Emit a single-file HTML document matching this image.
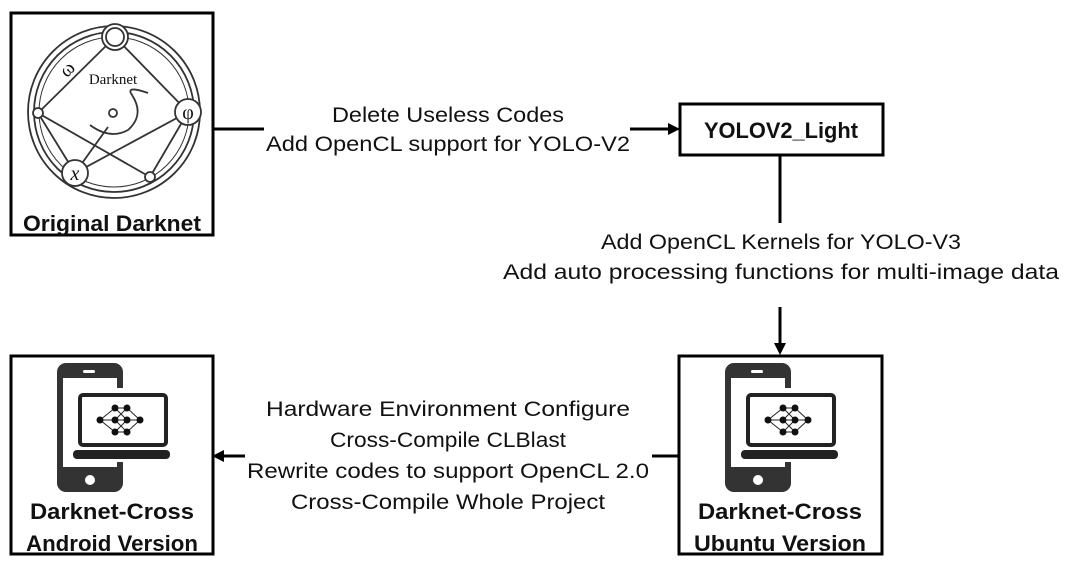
<!DOCTYPE html>
<html><head><meta charset="utf-8"><style>
html,body{margin:0;padding:0;background:#fff}
svg{display:block}
text{font-family:"Liberation Sans",sans-serif;fill:#111}
</style></head><body>
<svg width="1072" height="569" viewBox="0 0 1072 569" xmlns="http://www.w3.org/2000/svg">
<defs>
<g id="icon">
  <rect x="57" y="363" width="66" height="129" rx="9" fill="#333"/>
  <rect x="63" y="378" width="54" height="89" fill="#fff"/>
  <rect x="83" y="370" width="12" height="3" rx="1.5" fill="#fff"/>
  <circle cx="90" cy="480" r="5" fill="#fff"/>
  <rect x="72" y="388" width="102" height="74" fill="#fff"/>
  <rect x="80" y="395" width="86" height="50" rx="3" fill="none" stroke="#222" stroke-width="4"/>
  <rect x="73" y="450" width="97" height="9" rx="4" fill="#222"/>
  <g stroke="#222" stroke-width="1" fill="none">
    <path d="M100 420 L115 408 L127 408 L140 420 L127 432 L115 432 Z M100 420 L140 420 M115 408 L127 420 L115 432 M127 408 L115 420 L127 432"/>
  </g>
  <g fill="#111">
    <circle cx="100" cy="420" r="3.5"/><circle cx="140" cy="420" r="3.5"/>
    <circle cx="115" cy="408" r="3.5"/><circle cx="115" cy="420" r="3.5"/><circle cx="115" cy="432" r="3.5"/>
    <circle cx="127" cy="408" r="3.5"/><circle cx="127" cy="420" r="3.5"/><circle cx="127" cy="432" r="3.5"/>
  </g>
</g>
</defs>

<!-- boxes -->
<rect x="11" y="13" width="202" height="222" fill="none" stroke="#000" stroke-width="3"/>
<rect x="680" y="104" width="203" height="51" fill="none" stroke="#000" stroke-width="3"/>
<rect x="11" y="356" width="202" height="198" fill="none" stroke="#000" stroke-width="3"/>
<rect x="679" y="356" width="203" height="198" fill="none" stroke="#000" stroke-width="3"/>

<!-- darknet logo -->
<g fill="none" stroke="#333" stroke-width="1.8">
  <circle cx="114" cy="112" r="86"/>
  <circle cx="114" cy="112" r="80"/>
  <circle cx="114" cy="112" r="75" stroke-width="1"/>
  <path d="M115 37 L38 113 L150 177 M115 37 L188 112 L150 177 M38 113 L75 173 L188 112 M75 173 L108 127"/>
  <circle cx="115" cy="37" r="13" fill="#fff"/><circle cx="115" cy="37" r="9"/>
  <circle cx="188" cy="112" r="13" fill="#fff"/>
  <circle cx="75" cy="173" r="13" fill="#fff"/>
  <circle cx="38" cy="113" r="5" fill="#fff"/>
  <circle cx="150" cy="177" r="5" fill="#fff"/>
  <path d="M90 125 Q110 140 128 130 Q145 115 132 95 Q125 85 148 93"/>
  <circle cx="113" cy="113" r="4"/>
</g>
<text x="113" y="84" font-size="15" text-anchor="middle" style="font-family:'Liberation Serif',serif">Darknet</text>
<text x="188" y="119" font-size="20" text-anchor="middle" style="font-family:'Liberation Serif',serif">φ</text>
<text x="75" y="180" font-size="20" font-style="italic" text-anchor="middle" style="font-family:'Liberation Serif',serif">x</text>
<text x="68" y="75" font-size="20" text-anchor="middle" style="font-family:'Liberation Serif',serif" transform="rotate(-45 68 70)">ω</text>

<!-- icons -->
<use href="#icon"/>
<use href="#icon" transform="translate(668,0)"/>

<!-- box labels -->
<text x="112" y="231" font-size="22" font-weight="bold" text-anchor="middle" textLength="178" lengthAdjust="spacingAndGlyphs">Original Darknet</text>
<text x="781" y="138" font-size="22" font-weight="bold" text-anchor="middle" textLength="154" lengthAdjust="spacingAndGlyphs">YOLOV2_Light</text>
<text x="112" y="519" font-size="22" font-weight="bold" text-anchor="middle" textLength="164" lengthAdjust="spacingAndGlyphs">Darknet-Cross</text>
<text x="112" y="551" font-size="22" font-weight="bold" text-anchor="middle" textLength="172" lengthAdjust="spacingAndGlyphs">Android Version</text>
<text x="780" y="519" font-size="22" font-weight="bold" text-anchor="middle" textLength="164" lengthAdjust="spacingAndGlyphs">Darknet-Cross</text>
<text x="780" y="551" font-size="22" font-weight="bold" text-anchor="middle" textLength="172" lengthAdjust="spacingAndGlyphs">Ubuntu Version</text>

<!-- connectors -->
<g stroke="#000" stroke-width="3" fill="none">
  <path d="M213 129 L264 129"/>
  <path d="M630 129 L670 129"/>
  <path d="M780 155 L780 223"/>
  <path d="M780 307 L780 345"/>
  <path d="M679 456 L652 456"/>
  <path d="M245 456 L222 456"/>
</g>
<polygon points="680,129 668,123 668,135" fill="#000"/>
<polygon points="780,355 774,343 786,343" fill="#000"/>
<polygon points="212,456 224,450 224,462" fill="#000"/>

<!-- edge labels -->
<g font-size="21" text-anchor="middle">
  <text x="448" y="122" textLength="232" lengthAdjust="spacingAndGlyphs">Delete Useless Codes</text>
  <text x="448" y="151" textLength="364" lengthAdjust="spacingAndGlyphs">Add OpenCL support for YOLO-V2</text>
  <text x="781" y="249" textLength="360" lengthAdjust="spacingAndGlyphs">Add OpenCL Kernels for YOLO-V3</text>
  <text x="781" y="279" textLength="556" lengthAdjust="spacingAndGlyphs">Add auto processing functions for multi-image data</text>
  <text x="448" y="416" textLength="364" lengthAdjust="spacingAndGlyphs">Hardware Environment Configure</text>
  <text x="448" y="447" textLength="236" lengthAdjust="spacingAndGlyphs">Cross-Compile CLBlast</text>
  <text x="448" y="478" textLength="402" lengthAdjust="spacingAndGlyphs">Rewrite codes to support OpenCL 2.0</text>
  <text x="448" y="509" textLength="314" lengthAdjust="spacingAndGlyphs">Cross-Compile Whole Project</text>
</g>
</svg>
</body></html>
